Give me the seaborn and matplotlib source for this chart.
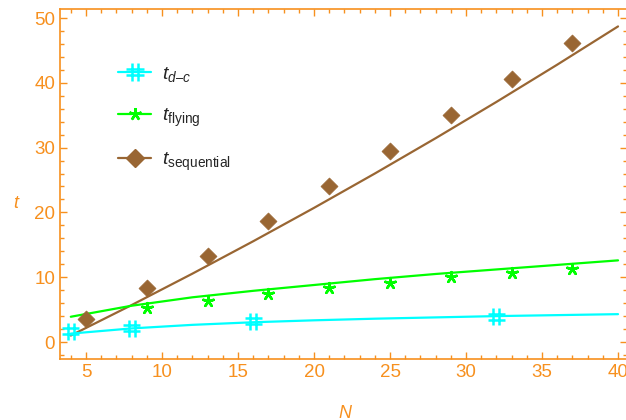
import matplotlib
matplotlib.use("Agg")
import matplotlib.pyplot as plt
import pandas as pd
import seaborn as sns
from matplotlib.lines import Line2D
from matplotlib.path import Path
from matplotlib.ticker import MultipleLocator

# --- data ---
dc_n = [4, 8, 16, 32]
dc_t = [1.7, 2.1, 3.2, 3.9]

flying_n = [9, 13, 17, 21, 25, 29, 33, 37]
flying_t = [5.2, 6.4, 7.4, 8.4, 9.1, 10.0, 10.7, 11.3]

seq_n = [5, 9, 13, 17, 21, 25, 29, 33, 37]
seq_t = [3.5, 8.3, 13.3, 18.6, 24.0, 29.5, 35.0, 40.6, 46.1]

# fitted curves
fit_n = [4, 8, 12, 16, 20, 24, 28, 32, 36, 40]
dc_fit = [1.3, 2.1, 2.65, 3.05, 3.35, 3.6, 3.8, 4.0, 4.15, 4.3]
flying_fit = [3.9, 5.6, 6.9, 7.9, 8.8, 9.7, 10.5, 11.2, 11.9, 12.6]
seq_fit = [1.0, 5.7, 10.55, 15.55, 20.7, 26.0, 31.45, 37.05, 42.8, 48.7]

labels = [r"$t_{d–c}$", r"$t_{\mathrm{flying}}$", r"$t_{\mathrm{sequential}}$"]

ORANGE = "#F7901E"
CYAN = "#00FFFF"
GREEN = "#00FF00"
BROWN = "#996633"

sns.set_style("ticks")
plt.rcParams["font.family"] = ["Liberation Sans", "DejaVu Sans"]
plt.rcParams["mathtext.fontset"] = "custom"
plt.rcParams["mathtext.rm"] = "Liberation Sans"
plt.rcParams["mathtext.it"] = "Liberation Sans:italic"

# "#" marker made of two horizontal and two vertical strokes
hash_marker = Path(
    [(-1, 0.35), (1, 0.35), (-1, -0.35), (1, -0.35),
     (-0.35, 1), (-0.35, -1), (0.35, 1), (0.35, -1)],
    [Path.MOVETO, Path.LINETO] * 4,
)
star_marker = (5, 2, 0)

fits = pd.DataFrame({"N": fit_n, "dc": dc_fit, "flying": flying_fit, "seq": seq_fit})

fig = plt.figure(figsize=(6.26, 4.2), dpi=100)
ax = fig.add_axes([60 / 626, 61 / 420, 567 / 626, 350 / 420])

sns.lineplot(data=fits, x="N", y="seq", color=BROWN, lw=1.6, ax=ax)
sns.lineplot(data=fits, x="N", y="flying", color=GREEN, lw=1.6, ax=ax)
sns.lineplot(data=fits, x="N", y="dc", color=CYAN, lw=1.6, ax=ax)

sns.scatterplot(x=seq_n, y=seq_t, marker="D", s=75, color=BROWN,
                edgecolor=BROWN, linewidth=0.5, ax=ax, zorder=4)
sns.scatterplot(x=flying_n, y=flying_t, marker=star_marker, s=60,
                edgecolor=GREEN, facecolor=GREEN, linewidth=1.8, ax=ax, zorder=4)
sns.scatterplot(x=dc_n, y=dc_t, marker=hash_marker, s=150,
                edgecolor=CYAN, facecolor="none", linewidth=1.8, ax=ax, zorder=4)

ax.set_xlim(3.29, 40.59)
ax.set_ylim(-2.62, 51.39)
ax.xaxis.set_major_locator(MultipleLocator(5))
ax.xaxis.set_minor_locator(MultipleLocator(1))
ax.yaxis.set_major_locator(MultipleLocator(10))
ax.yaxis.set_minor_locator(MultipleLocator(2))
ax.tick_params(which="both", direction="in", top=True, right=True,
               color=ORANGE, labelcolor=ORANGE, labelsize=13.5, width=1)
ax.tick_params(which="major", length=5)
ax.tick_params(which="minor", length=3)
for sp in ax.spines.values():
    sp.set_color(ORANGE)
    sp.set_linewidth(1.2)

ax.set_xlabel("N", color=ORANGE, fontsize=13, style="italic")
ax.set_ylabel("t", color=ORANGE, fontsize=13, style="italic", rotation=0)
ax.xaxis.set_label_coords(0.503, -0.13)
ax.yaxis.set_label_coords(-0.079, 0.42)

handles = [
    Line2D([], [], color=CYAN, lw=1.6, marker=hash_marker, ms=13,
           mec=CYAN, mfc="none", mew=1.8),
    Line2D([], [], color=GREEN, lw=1.6, marker=star_marker, ms=9,
           mec=GREEN, mfc=GREEN, mew=1.8),
    Line2D([], [], color=BROWN, lw=1.6, marker="D", ms=9,
           mec=BROWN, mfc=BROWN),
]
ax.legend(handles, labels, loc="upper left", bbox_to_anchor=(0.072, 0.89),
          frameon=False, fontsize=14, labelspacing=1.15, handlelength=1.7,
          handletextpad=0.55)

fig.savefig("out.png", dpi=100)
